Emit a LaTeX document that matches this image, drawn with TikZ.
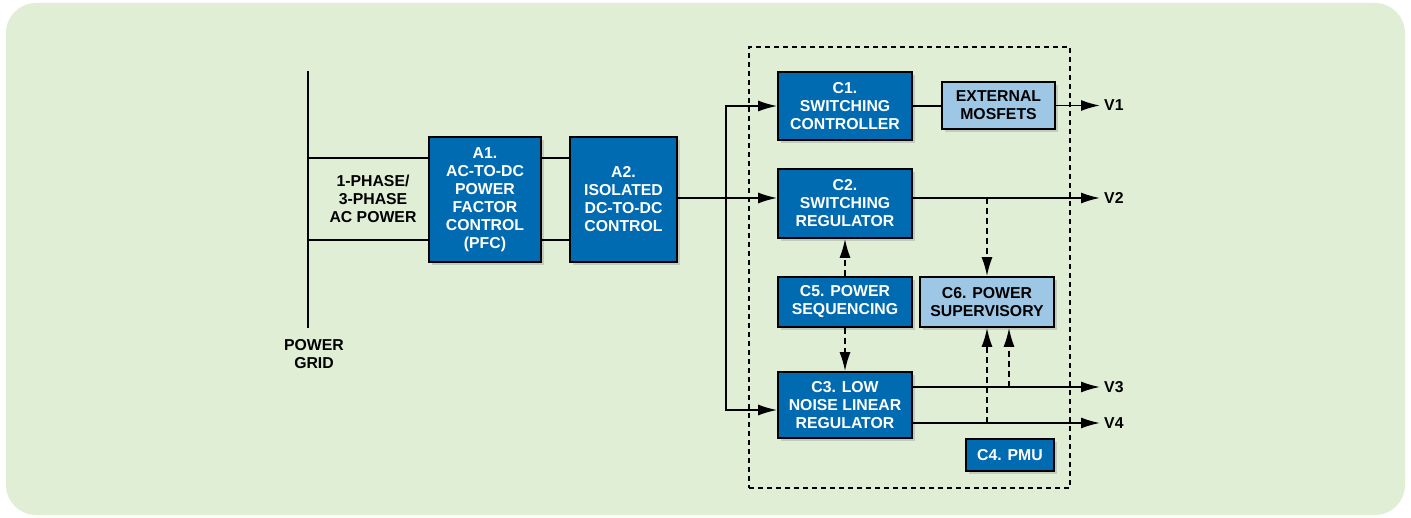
\documentclass[tikz,border=0pt]{standalone}
\usepackage{fontspec}
\setmainfont{Liberation Sans}
\usetikzlibrary{arrows.meta,positioning,shadows}
\definecolor{adiblue}{RGB}{0,107,177}
\definecolor{lightblue}{RGB}{157,199,229}
\definecolor{panelgreen}{RGB}{225,238,214}

\begin{document}
\begin{tikzpicture}[
        x=1pt, y=-1pt,
        font=\fontsize{15.8}{18}\selectfont\bfseries,
        block/.style={rectangle, draw, line width=1.7pt, fill=adiblue, text=white, align=center, inner sep=0pt, drop shadow={shadow xshift=3pt, shadow yshift=-3pt, opacity=0.3}},
        light/.style={block, fill=lightblue, text=black},
        txt/.style={align=center, inner sep=2pt},
        vout/.style={anchor=west, inner sep=4pt},
        wire/.style={line width=1.7pt},
        arrow/.style={-{Latex[length=19pt,width=11pt]}, line width=1.7pt},
        dasharrow/.style={arrow, dash pattern=on 6pt off 4pt},
        board/.style={draw, line width=1.3pt, dash pattern=on 5pt off 4pt, inner sep=0pt}
      ]
        % Panel
        \useasboundingbox (0,0) rectangle (1411,518);
        \fill[white] (0,0) rectangle (1411,518);
        \fill[panelgreen, rounded corners=30pt] (6,3) rectangle (1405,515);

        % Power grid
        \coordinate (gridtop) at (308,71);
        \coordinate (gridbot) at (308,328);
        \coordinate (g1) at (308,158);
        \coordinate (g2) at (308,240);
        \node[txt] (grid) at (314,354) {POWER\\GRID};
        \node[txt] (acpower) at (373,199) {1-PHASE/\\3-PHASE\\AC POWER};

        % Front end
        \node[block, minimum width=112pt, minimum height=125pt] (a1) at (485,199.5) {A1.\\AC-TO-DC\\POWER\\FACTOR\\CONTROL\\(PFC)};
        \node[block, minimum width=107pt, minimum height=125pt] (a2) at (623.5,199.5) {A2.\\ISOLATED\\DC-TO-DC\\CONTROL};

        % Board
        \node[board, minimum width=321pt, minimum height=441pt] (pcb) at (909.5,267.5) {};
        \node[block, minimum width=134pt, minimum height=68pt] (c1) at (845,106) {C1.\\SWITCHING\\CONTROLLER};
        \node[light, minimum width=113pt, minimum height=47pt] (ext) at (998.5,105.5) {EXTERNAL\\MOSFETS};
        \node[block, minimum width=134pt, minimum height=69pt] (c2) at (845,203.5) {C2.\\SWITCHING\\REGULATOR};
        \node[block, minimum width=134pt, minimum height=50pt] (c5) at (845,302) {C5. POWER\\SEQUENCING};
        \node[light, minimum width=134pt, minimum height=50pt] (c6) at (987,302) {C6. POWER\\SUPERVISORY};
        \node[block, minimum width=134pt, minimum height=66pt] (c3) at (845,405) {C3. LOW\\NOISE LINEAR\\REGULATOR};
        \node[block, minimum width=88pt, minimum height=32pt] (c4) at (1010,455) {C4. PMU};

        % Outputs
        \node[vout] (v1) at (1100,105.5) {V1};
        \node[vout] (v2) at (1100,198) {V2};
        \node[vout] (v3) at (1100,387) {V3};
        \node[vout] (v4) at (1100,423) {V4};

        % Wires
        \draw[wire] (gridtop) -- (gridbot);
        \draw[wire] (g1) -- (g1 -| a1.west);
        \draw[wire] (g2) -- (g2 -| a1.west);
        \draw[wire] (a1.east |- g1) -- (a2.west |- g1);
        \draw[wire] (a1.east |- g2) -- (a2.west |- g2);

        \coordinate (bus) at (726,198);
        \draw[wire] (a2.east |- bus) -- (bus);
        \draw[arrow] (bus) -- (bus -| c2.west);
        \draw[arrow] (bus) |- (c1.west);
        \draw[arrow] (bus) |- ([yshift=-5pt]c3.west);

        \draw[wire] (c1.east) -- (c1.east -| ext.west);
        \draw[arrow] (ext.east) -- (v1.west);
        \draw[arrow] (c2.east |- v2) -- (v2.west);
        \draw[arrow] (c3.east |- v3) -- (v3.west);
        \draw[arrow] (c3.east |- v4) -- (v4.west);

        % Sequencing and supervision
        \draw[dasharrow] (c5.north) -- (c2.south);
        \draw[dasharrow] (c5.south) -- (c3.north);
        \draw[dasharrow] (c6.north |- v2) -- (c6.north);
        \draw[dasharrow] (c6.south |- v4) -- (c6.south);
        \draw[dasharrow] ([xshift=22pt]c6.south |- v3) -- ([xshift=22pt]c6.south);
      \end{tikzpicture}
\end{document}
